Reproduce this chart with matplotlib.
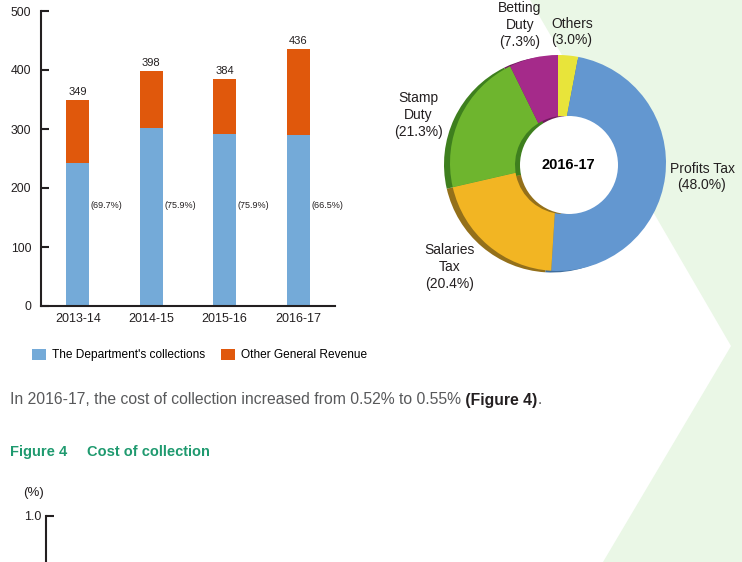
import numpy as np
import matplotlib
matplotlib.use('Agg')
import matplotlib.pyplot as plt
from matplotlib.patches import Polygon, Circle, Patch

# Figure 3 bars: revenue ($ billion) by year
years = ['2013-14', '2014-15', '2015-16', '2016-17']
dept = [243, 302, 291, 290]
other = [106, 96, 93, 146]
totals = [349, 398, 384, 436]
dept_share = ['(69.7%)', '(75.9%)', '(75.9%)', '(66.5%)']

# donut: department's collections 2016-17
tax_names = ['Others', 'Profits Tax', 'Salaries\nTax', 'Stamp\nDuty', 'Betting\nDuty']
tax_share = [3.0, 48.0, 20.4, 21.3, 7.3]

REG = ['Liberation Sans', 'DejaVu Sans']
plt.rcParams['font.family'] = REG

W, H = 742, 562
fig = plt.figure(figsize=(W / 100, H / 100), dpi=100)


def fx(px):
    return px / W


def fy(py):
    return 1 - py / H


# light green chevron in the background
bg = Polygon([(fx(530), fy(0)), (1, 1), (1, 0), (fx(603), 0), (fx(731), fy(346))],
             closed=True, transform=fig.transFigure, facecolor='#eaf7e6',
             edgecolor='none', zorder=-5)
fig.patches.append(bg)

txt = '#231f20'
blue, orange = '#74aad8', '#e0580c'

# ---- stacked bars
ax = fig.add_axes([fx(41), fy(306), fx(335) - fx(41), fy(11) - fy(306)])
ax.set_facecolor('none')
x = np.arange(len(years))
bw = 0.31
ax.bar(x, dept, width=bw, color=blue)
ax.bar(x, other, bottom=dept, width=bw, color=orange)
ax.set_xlim(-0.5, 3.5)
ax.set_ylim(0, 500)
ax.set_yticks(range(0, 501, 100))
ax.set_xticks(x, years)
ax.tick_params(axis='y', direction='in', length=6, width=1.5, pad=7, labelsize=8.8, colors=txt)
ax.tick_params(axis='x', length=0, pad=5, labelsize=9, colors=txt)
for s in ['top', 'right']:
    ax.spines[s].set_visible(False)
for s in ['left', 'bottom']:
    ax.spines[s].set_linewidth(1.5)
    ax.spines[s].set_color(txt)
for xi, t, p in zip(x, totals, dept_share):
    ax.text(xi, t + 5, str(t), ha='center', va='bottom', fontsize=8, color=txt)
    ax.text(xi + bw / 2 + 0.02, 171, p, ha='left', va='center', fontsize=6.5, color=txt)

fig.legend([Patch(facecolor=blue), Patch(facecolor=orange)],
           ["The Department's collections", 'Other General Revenue'],
           loc='center left', bbox_to_anchor=(fx(32), fy(355)), ncol=2, frameon=False,
           fontsize=8.6, handlelength=1.15, handleheight=1.1, handletextpad=0.5,
           columnspacing=1.35, borderpad=0, borderaxespad=0)

# ---- donut
u = 110.0
pax = fig.add_axes([fx(436), fy(284), 240 / W, 240 / H])
pax.set_facecolor('none')


def pc(px, py):
    return ((px - 556) / u, -(py - 164) / u)


main_cols = ['#e8e43a', '#6397d0', '#f2b523', '#6eb52e', '#a52a8a']
dark_cols = ['#9c9a24', '#3f6e9e', '#94701a', '#3e7f1e', '#6e1a5c']
pie_kw = dict(startangle=90, counterclock=False, wedgeprops=dict(linewidth=0))
pax.pie(tax_share, colors=dark_cols, center=pc(552, 164.5), radius=108 / u, **pie_kw)
pax.pie(tax_share, colors=main_cols, center=pc(558, 163), radius=108 / u, **pie_kw)
pax.pie(tax_share, colors=dark_cols, center=pc(564, 165), radius=49 / u, **pie_kw)
pax.add_patch(Circle(pc(569, 165), 49 / u, facecolor='white', edgecolor='none', zorder=5))
pax.text(*pc(568, 165), '2016-17', ha='center', va='center', fontsize=10.5,
         fontweight='bold', color='black', zorder=6)
pax.set_xlim(-120 / u, 120 / u)
pax.set_ylim(-120 / u, 120 / u)
pax.set_aspect('equal', adjustable='box')
pax.axis('off')

label_pos = [(572, 32), (702, 177), (450, 267), (418, 115), (520, 25)]
for name, sh, (lx, ly) in zip(tax_names, tax_share, label_pos):
    fig.text(fx(lx), fy(ly), f'{name}\n({sh:.1f}%)', ha='center', va='center',
             multialignment='center', fontsize=10, linespacing=1.25, color=txt)

# ---- body text
r = fig.canvas.get_renderer()
t1 = fig.text(fx(10), fy(400), 'In 2016-17, the cost of collection increased from 0.52% to 0.55%',
              family=REG, fontsize=11.3, color='#58595b', va='center')
bb = t1.get_window_extent(renderer=r)
t2 = fig.text(bb.x1 / W, fy(400), ' (Figure 4)', family=REG, fontsize=11.3,
              fontweight='bold', color='#231f20', va='center')
bb2 = t2.get_window_extent(renderer=r)
fig.text(bb2.x1 / W, fy(400), '.', family=REG, fontsize=11.3, color='#58595b', va='center')

green = '#1f9a6f'
fig.text(fx(10), fy(452), 'Figure 4', family=REG, fontsize=10.5, fontweight='bold',
         color=green, va='center')
fig.text(fx(87), fy(452), 'Cost of collection', family=REG, fontsize=10.5,
         fontweight='bold', color=green, va='center')

# ---- start of Figure 4 axis (cut off at bottom)
ax4 = fig.add_axes([fx(46), -0.5, 0.5, fy(516) + 0.5])
ax4.set_facecolor('none')
ax4.set_ylim(0, 1.0)
ax4.set_yticks([1.0], ['1.0'])
ax4.set_xticks([])
ax4.tick_params(axis='y', direction='in', length=6, width=1.5, pad=3, labelsize=9, colors=txt)
for s in ['top', 'right', 'bottom']:
    ax4.spines[s].set_visible(False)
ax4.spines['left'].set_linewidth(1.5)
ax4.spines['left'].set_color(txt)
fig.text(fx(33), fy(493), '(%)', ha='center', va='center', fontsize=9.5, color=txt)

fig.savefig('out.png', dpi=100)
